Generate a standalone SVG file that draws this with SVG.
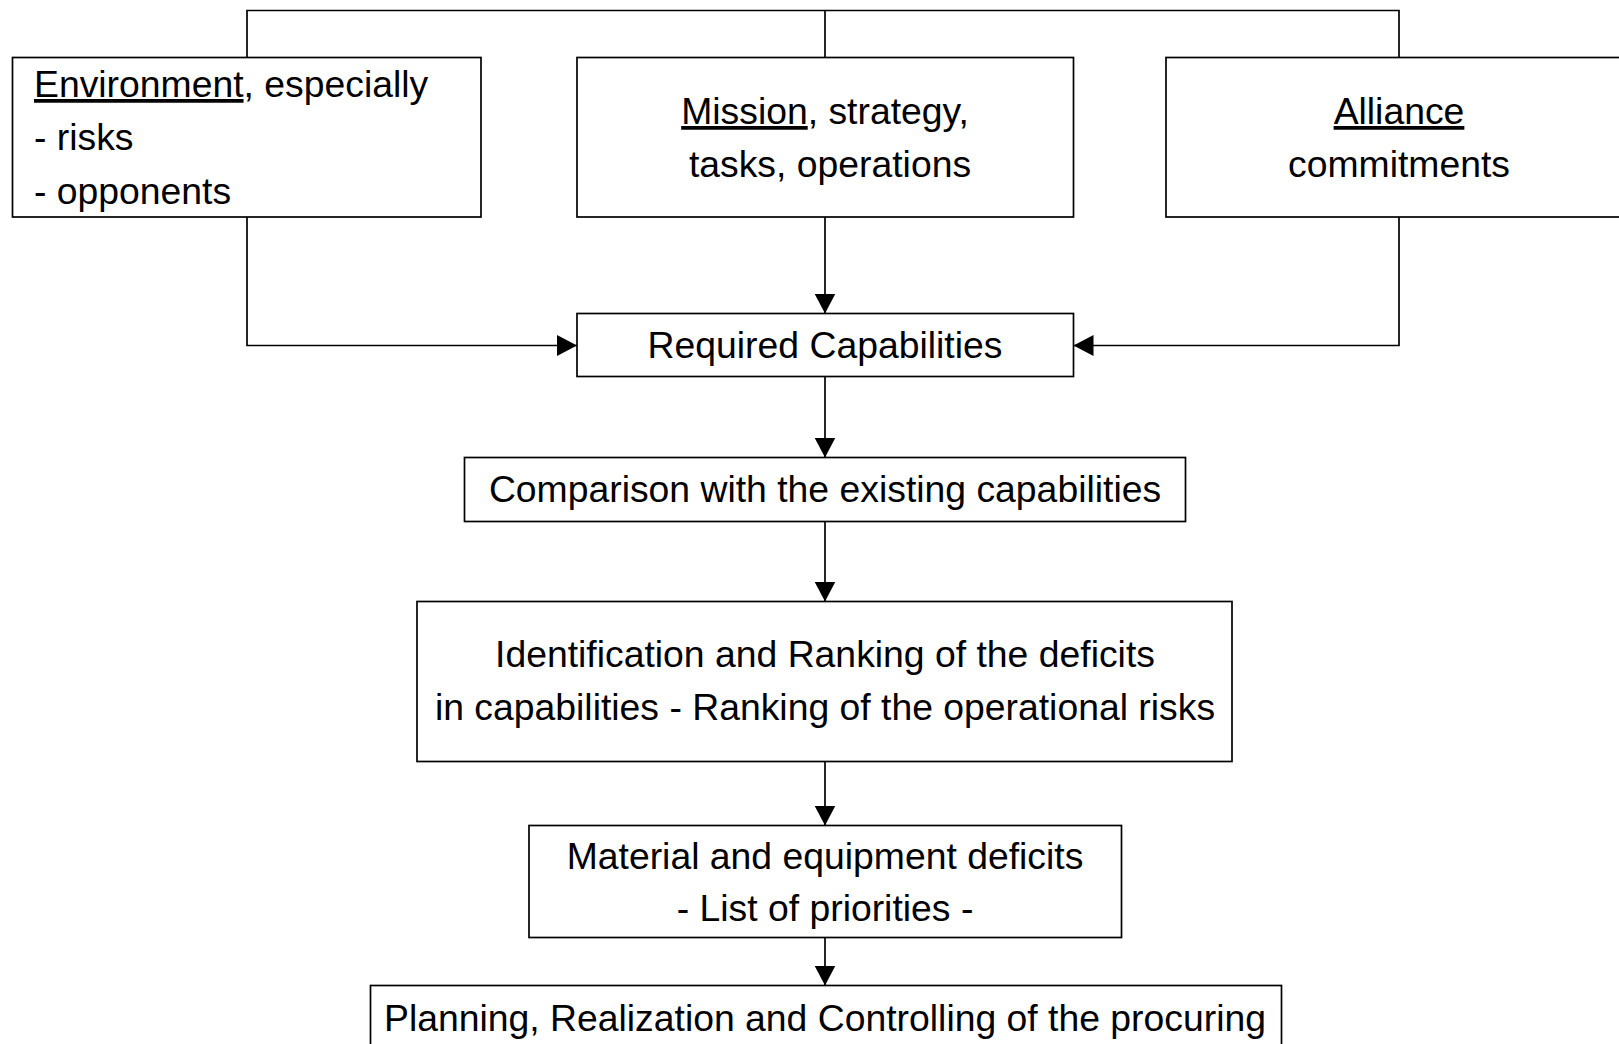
<svg xmlns="http://www.w3.org/2000/svg" width="1619" height="1044" viewBox="0 0 1619 1044">
<style>
.box{fill:#fff;stroke:#000;stroke-width:1.7}
.lbl{font-family:"Liberation Sans",Arial,sans-serif;font-size:37.33px;fill:#000}
.mid{text-anchor:middle}
.conn{fill:none;stroke:#000;stroke-width:1.7}
.u{text-decoration:underline}
</style>
<defs>
<marker id="arr" markerUnits="userSpaceOnUse" markerWidth="20" markerHeight="21" refX="20" refY="10.5" orient="auto" viewBox="0 0 20 21">
<path d="M0,0 L20,10.5 L0,21 z" fill="#000"/>
</marker>
</defs>
<rect width="1619" height="1044" fill="#fff"/>
<g id="connectors">
<path class="conn" d="M247,57.5 V10.5 H1399 V57.5"/>
<path class="conn" d="M825,10.5 V57.5"/>
<path class="conn" d="M247,217 V345.5 H577" marker-end="url(#arr)"/>
<path class="conn" d="M1399,217 V345.5 H1073.5" marker-end="url(#arr)"/>
<path class="conn" d="M825,217 V313.5" marker-end="url(#arr)"/>
<path class="conn" d="M825,376.5 V457.5" marker-end="url(#arr)"/>
<path class="conn" d="M825,521.5 V601.5" marker-end="url(#arr)"/>
<path class="conn" d="M825,761.5 V825.5" marker-end="url(#arr)"/>
<path class="conn" d="M825,937.5 V985.5" marker-end="url(#arr)"/>
</g>
<g id="environment">
<rect class="box" x="12.5" y="57.5" width="468.5" height="159.5"/>
<text class="lbl" x="34" y="97"><tspan class="u">Environment</tspan>, especially</text>
<text class="lbl" x="34" y="150.3">- risks</text>
<text class="lbl" x="34" y="203.6">- opponents</text>
</g>
<g id="mission">
<rect class="box" x="577" y="57.5" width="496.5" height="159.5"/>
<text class="lbl mid" x="825" y="124"><tspan class="u">Mission</tspan>, strategy,</text>
<text class="lbl mid" x="830" y="177.3">tasks, operations</text>
</g>
<g id="alliance">
<rect class="box" x="1166" y="57.5" width="470" height="159.5"/>
<text class="lbl mid" x="1399" y="124"><tspan class="u">Alliance</tspan></text>
<text class="lbl mid" x="1399" y="177.3">commitments</text>
</g>
<g id="required">
<rect class="box" x="577" y="313.5" width="496.5" height="63"/>
<text class="lbl mid" x="825" y="357.7">Required Capabilities</text>
</g>
<g id="comparison">
<rect class="box" x="464.5" y="457.5" width="721" height="64"/>
<text class="lbl mid" x="825" y="501.7">Comparison with the existing capabilities</text>
</g>
<g id="identification">
<rect class="box" x="417" y="601.5" width="815" height="160"/>
<text class="lbl mid" x="825" y="666.7">Identification and Ranking of the deficits</text>
<text class="lbl mid" x="825" y="720">in capabilities - Ranking of the operational risks</text>
</g>
<g id="material">
<rect class="box" x="529" y="825.5" width="592.5" height="112"/>
<text class="lbl mid" x="825" y="868.5">Material and equipment deficits</text>
<text class="lbl mid" x="825" y="921">- List of priorities -</text>
</g>
<g id="planning">
<rect class="box" x="370.5" y="985.5" width="911" height="80"/>
<text class="lbl mid" x="825" y="1031">Planning, Realization and Controlling of the procuring</text>
</g>
</svg>
